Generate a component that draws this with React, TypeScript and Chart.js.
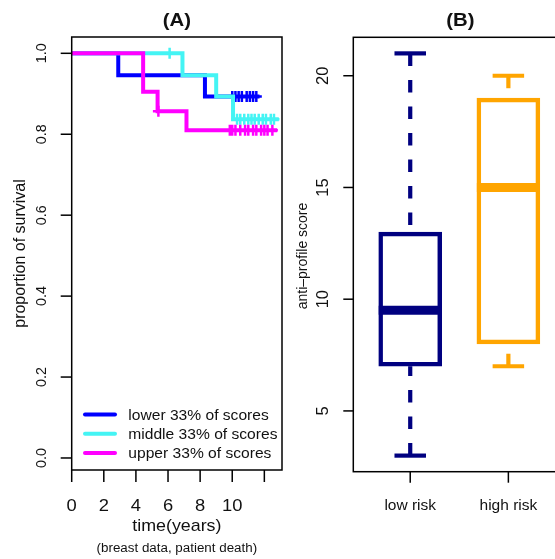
import React, { useEffect, useRef } from "react";
import { Chart, registerables } from "chart.js";

Chart.register(...registerables);

const FONT = "'Liberation Sans', Arial, Helvetica, sans-serif";
const TEXT = "#111111";

// ---------- Panel (A): Kaplan-Meier data ----------
const kmLowerTimes = [0, 2.9, 8.3, 11.7];
const kmLowerSurv = [1.0, 0.946, 0.893, 0.893];
const kmLowerCensor = [10.0, 10.2, 10.4, 10.6, 10.9, 11.1, 11.3, 11.5];

const kmMiddleTimes = [0, 6.9, 9.0, 10.05, 12.9];
const kmMiddleSurv = [1.0, 0.946, 0.893, 0.837, 0.837];
const kmMiddleCensor = [6.1, 10.3, 10.5, 10.75, 11.0, 11.2, 11.4, 11.65, 11.9, 12.1, 12.4, 12.6];

const kmUpperTimes = [0, 4.45, 5.35, 7.15, 12.8];
const kmUpperSurv = [1.0, 0.905, 0.857, 0.81, 0.81];
const kmUpperCensor = [5.4, 9.85, 10.0, 10.2, 10.5, 10.8, 11.0, 11.3, 11.5, 11.8, 12.0, 12.2, 12.5];

const kmLegendLabels = ["lower 33% of scores", "middle 33% of scores", "upper 33% of scores"];
const kmYTickValues = [0, 0.2, 0.4, 0.6, 0.8, 1.0];
const kmYTickLabels = ["0.0", "0.2", "0.4", "0.6", "0.8", "1.0"];
const kmXTickValues = [0, 2, 4, 6, 8, 10, 12];
const kmXTickLabels = ["0", "2", "4", "6", "8", "10", ""];

// ---------- Panel (B): boxplot data ----------
const boxCategories = ["low risk", "high risk"];
const boxWhiskerLow = [3, 7];
const boxQ1 = [7, 8];
const boxMedian = [9.5, 15];
const boxQ3 = [13, 19];
const boxWhiskerHigh = [21, 20];
const boxYTickValues = [5, 10, 15, 20];
const boxYTickLabels = ["5", "10", "15", "20"];

// ---------- styles ----------
const BLUE = "#0000FF";
const CYAN = "#44F4F4";
const MAGENTA = "#FF00FF";
const NAVY = "#000080";
const ORANGE = "#FFA500";
const BOX_W = 63;

function survAt(times: number[], surv: number[], t: number) {
  let s = surv[0];
  for (let i = 0; i < times.length; i++) if (times[i] <= t) s = surv[i];
  return s;
}

function drawText(
  ctx: CanvasRenderingContext2D,
  s: string,
  x: number,
  y: number,
  size: number,
  opts: { bold?: boolean; align?: CanvasTextAlign; rot?: number; sx?: number } = {}
) {
  ctx.save();
  ctx.font = `${opts.bold ? "bold " : ""}${size}px ${FONT}`;
  ctx.fillStyle = TEXT;
  ctx.translate(x, y);
  if (opts.rot) ctx.rotate(opts.rot);
  ctx.scale(opts.sx ?? 1, 1);
  ctx.textAlign = opts.align ?? "center";
  ctx.textBaseline = "alphabetic";
  ctx.fillText(s, 0, 0);
  ctx.restore();
}

function seg(ctx: CanvasRenderingContext2D, x1: number, y1: number, x2: number, y2: number) {
  ctx.beginPath();
  ctx.moveTo(x1, y1);
  ctx.lineTo(x2, y2);
  ctx.stroke();
}

const leftAxesPlugin = {
  id: "leftAxes",
  afterDraw(chart: any) {
    const { ctx, chartArea: a, scales } = chart;
    const x = scales.x;
    const y = scales.y;
    ctx.save();
    ctx.strokeStyle = "#000";
    ctx.lineWidth = 1.5;
    ctx.strokeRect(a.left, a.top, a.right - a.left, a.bottom - a.top);
    // y axis
    kmYTickValues.forEach((v, i) => {
      const py = y.getPixelForValue(v);
      seg(ctx, a.left - 11, py, a.left, py);
      drawText(ctx, kmYTickLabels[i], 45.5, py, 14.4, { rot: -Math.PI / 2 });
    });
    drawText(ctx, "proportion of survival", 25, (a.top + a.bottom) / 2, 16, { rot: -Math.PI / 2 });
    // x axis
    kmXTickValues.forEach((v, i) => {
      const px = x.getPixelForValue(v);
      seg(ctx, px, a.bottom, px, a.bottom + 12);
      if (kmXTickLabels[i]) drawText(ctx, kmXTickLabels[i], px, 511, 17, { sx: 1.08 });
    });
    const cx = (a.left + a.right) / 2;
    drawText(ctx, "time(years)", cx, 531, 17, { sx: 1.05 });
    drawText(ctx, "(breast data, patient death)", cx, 552, 12.5, { sx: 1.07 });
    drawText(ctx, "(A)", cx, 26, 18.5, { bold: true, sx: 1.1 });
    // legend
    const cols = [BLUE, CYAN, MAGENTA];
    kmLegendLabels.forEach((lab, i) => {
      const ry = 414.5 + i * 19.2;
      ctx.strokeStyle = cols[i];
      ctx.lineWidth = 4;
      ctx.lineCap = "round";
      seg(ctx, 85, ry, 115, ry);
      drawText(ctx, lab, 128.3, ry + 5.5, 15, { align: "left", sx: 1.04 });
    });
    ctx.restore();
  },
};

const rightAxesPlugin = {
  id: "rightAxes",
  afterDatasetsDraw(chart: any) {
    const { ctx, scales } = chart;
    const x = scales.x;
    const y = scales.y;
    ctx.save();
    ctx.lineCap = "butt";
    boxCategories.forEach((_, i) => {
      const col = i === 0 ? NAVY : ORANGE;
      const cx = x.getPixelForValue(i + 1);
      const half = BOX_W / 2;
      ctx.strokeStyle = col;
      // median
      ctx.lineWidth = 9;
      const my = y.getPixelForValue(boxMedian[i]);
      seg(ctx, cx - half, my, cx + half, my);
      // whiskers (dashed, starting at cap)
      ctx.lineWidth = 4.2;
      ctx.setLineDash([12.5, 14]);
      seg(ctx, cx, y.getPixelForValue(boxWhiskerHigh[i]), cx, y.getPixelForValue(boxQ3[i]));
      seg(ctx, cx, y.getPixelForValue(boxWhiskerLow[i]), cx, y.getPixelForValue(boxQ1[i]));
      ctx.setLineDash([]);
      // caps
      const capHalf = BOX_W / 4;
      const hy = y.getPixelForValue(boxWhiskerHigh[i]);
      const ly = y.getPixelForValue(boxWhiskerLow[i]);
      seg(ctx, cx - capHalf, hy, cx + capHalf, hy);
      seg(ctx, cx - capHalf, ly, cx + capHalf, ly);
    });
    ctx.restore();
  },
  afterDraw(chart: any) {
    const { ctx, chartArea: a, scales } = chart;
    const x = scales.x;
    const y = scales.y;
    ctx.save();
    ctx.strokeStyle = "#000";
    ctx.lineWidth = 1.5;
    ctx.strokeRect(a.left, a.top, a.right - a.left, a.bottom - a.top);
    boxYTickValues.forEach((v, i) => {
      const py = y.getPixelForValue(v);
      seg(ctx, a.left - 10, py, a.left, py);
      drawText(ctx, boxYTickLabels[i], 38, py, 16.5, { rot: -Math.PI / 2 });
    });
    drawText(ctx, "anti\u2013profile score", 16.5, 256, 14, { rot: -Math.PI / 2 });
    boxCategories.forEach((c, i) => {
      const px = x.getPixelForValue(i + 1);
      seg(ctx, px, a.bottom, px, a.bottom + 11);
      drawText(ctx, c, px, 510, 15.5);
    });
    drawText(ctx, "(B)", (a.left + a.right) / 2 + 1, 26, 18.5, { bold: true, sx: 1.1 });
    ctx.restore();
  },
};

function kmLine(times: number[], surv: number[], color: string, order: number) {
  return {
    data: times.map((t, i) => ({ x: t, y: surv[i] })),
    borderColor: color,
    borderWidth: 4,
    stepped: "before",
    pointRadius: 0,
    fill: false,
    order,
  };
}

function kmCensor(times: number[], surv: number[], censor: number[], color: string, order: number) {
  return {
    data: censor.map((t) => ({ x: t, y: survAt(times, surv, t) })),
    showLine: false,
    pointStyle: "cross",
    pointRadius: 5.5,
    pointBorderWidth: 2.5,
    pointBorderColor: color,
    pointBackgroundColor: color,
    borderColor: color,
    order,
  };
}

export default function App() {
  const leftRef = useRef<HTMLCanvasElement>(null);
  const rightRef = useRef<HTMLCanvasElement>(null);

  useEffect(() => {
    const left = new Chart(leftRef.current as HTMLCanvasElement, {
      type: "line",
      data: {
        datasets: [
          kmLine(kmUpperTimes, kmUpperSurv, MAGENTA, 1),
          kmCensor(kmUpperTimes, kmUpperSurv, kmUpperCensor, MAGENTA, 1),
          kmLine(kmMiddleTimes, kmMiddleSurv, CYAN, 2),
          kmCensor(kmMiddleTimes, kmMiddleSurv, kmMiddleCensor, CYAN, 2),
          kmLine(kmLowerTimes, kmLowerSurv, BLUE, 3),
          kmCensor(kmLowerTimes, kmLowerSurv, kmLowerCensor, BLUE, 3),
        ] as any,
      },
      options: {
        animation: false,
        responsive: false,
        devicePixelRatio: 1,
        events: [],
        layout: { padding: { left: 71.7, top: 37, right: 7.3, bottom: 89 } },
        plugins: { legend: { display: false }, tooltip: { enabled: false } },
        scales: {
          x: { type: "linear", min: 0, max: 13.1, display: false },
          y: { type: "linear", min: -0.0297, max: 1.0403, display: false },
        },
      },
      plugins: [leftAxesPlugin],
    } as any);

    const right = new Chart(rightRef.current as HTMLCanvasElement, {
      type: "bar",
      data: {
        datasets: [
          {
            data: boxCategories.map((_, i) => ({ x: i + 1, y: [boxQ1[i], boxQ3[i]] })),
            backgroundColor: "#FFFFFF",
            borderColor: [NAVY, ORANGE],
            borderWidth: 4.5,
            borderSkipped: false,
            barThickness: BOX_W,
          },
        ] as any,
      },
      options: {
        animation: false,
        responsive: false,
        devicePixelRatio: 1,
        events: [],
        layout: { padding: { left: 63.3, top: 37.3, right: 14.7, bottom: 87.3 } },
        plugins: { legend: { display: false }, tooltip: { enabled: false } },
        scales: {
          x: { type: "linear", min: 0.42, max: 2.58, display: false, offset: false },
          y: { type: "linear", min: 2.28, max: 21.72, display: false },
        },
      },
      plugins: [rightAxesPlugin],
    } as any);

    return () => {
      left.destroy();
      right.destroy();
    };
  }, []);

  return (
    <div
      style={{
        position: "absolute",
        left: 0,
        top: 0,
        width: 555,
        height: 559,
        overflow: "hidden",
        background: "#ffffff",
      }}
    >
      <canvas
        ref={leftRef}
        width={290}
        height={559}
        style={{ position: "absolute", left: 0, top: 0, width: 290, height: 559 }}
      />
      <canvas
        ref={rightRef}
        width={290}
        height={559}
        style={{ position: "absolute", left: 290, top: 0, width: 290, height: 559 }}
      />
    </div>
  );
}
